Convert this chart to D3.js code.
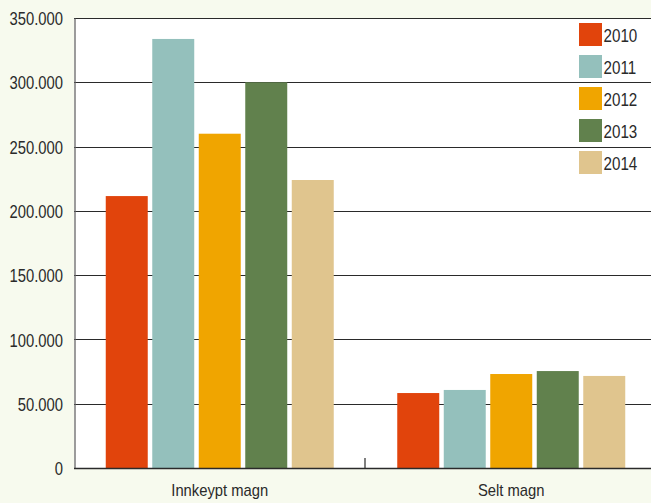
<!DOCTYPE html>
<html><head><meta charset="utf-8">
<script src="https://cdn.jsdelivr.net/npm/d3@7"></script>
<style>
html,body{margin:0;padding:0;background:#f7faee;}
svg{display:block;}
text{font-family:"Liberation Sans",Arial,sans-serif;fill:#2a2a2a;}
</style></head>
<body>
<svg id="chart" width="651" height="503"></svg>
<script>
const categories = ["Innkeypt magn", "Selt magn"];
const years = ["2010", "2011", "2012", "2013", "2014"];
const values2010 = [211500, 58300];
const values2011 = [333700, 60700];
const values2012 = [260000, 73100];
const values2013 = [300000, 75400];
const values2014 = [224000, 71600];
const yTicks = [0, 50000, 100000, 150000, 200000, 250000, 300000, 350000];
const colors = ["#e1440c", "#94c0bc", "#f0a500", "#61814d", "#e0c58e"];

const series = [values2010, values2011, values2012, values2013, values2014];
const svg = d3.select("#chart");
const mLeft = 74, mRight = 657, mTop = 18, mBottom = 468;
const FF = '"Liberation Sans",Arial,sans-serif';

const x0 = d3.scaleBand().domain(categories).range([mLeft, mRight]).paddingInner(0).paddingOuter(0);
const x1 = d3.scaleBand().domain(years).range([0, 228]).paddingInner(0.097).paddingOuter(0);
const y = d3.scaleLinear().domain([0, 350000]).range([mBottom, mTop]);

svg.append("rect").attr("x", mLeft).attr("y", mTop).attr("width", 651 - mLeft).attr("height", mBottom - mTop).attr("fill", "#ffffff");

// gridlines
svg.append("g").selectAll("line").data(yTicks.filter(d => d > 0)).join("line")
  .attr("x1", mLeft).attr("x2", 651).attr("y1", d => Math.round(y(d)) + 0.5).attr("y2", d => Math.round(y(d)) + 0.5)
  .attr("stroke", "#2a2a2a").attr("stroke-width", 1.2);

// bars
const fmt = v => v === 0 ? "0" : d3.format(",")(v).replace(/,/g, ".");
const groups = svg.append("g").selectAll("g").data(categories).join("g")
  .attr("transform", d => `translate(${x0(d) + x0.bandwidth() / 2 - 114},0)`);
groups.selectAll("rect").data((c, i) => years.map((yr, j) => ({yr, v: series[j][i], j}))).join("rect")
  .attr("x", d => x1(d.yr)).attr("width", x1.bandwidth())
  .attr("y", d => y(d.v)).attr("height", d => y(0) - y(d.v))
  .attr("fill", d => colors[d.j]);

// y axis
const sy = 0.8;
const yAxis = d3.axisLeft(y).tickValues(yTicks).tickFormat(fmt).tickSize(0).tickPadding(11);
const ga = svg.append("g").attr("transform", `translate(${mLeft + 0.5},0)`).call(yAxis);
ga.select(".domain").attr("stroke", "#666").attr("stroke-width", 1.3);
ga.selectAll("text").attr("font-size", 18.5).attr("fill", "#2a2a2a").style("font-family", FF)
  .attr("x", -11.5 / sy).attr("dy", "0.36em").attr("transform", `scale(${sy},1)`);

// x axis
const sx = 0.87;
const xAxis = d3.axisBottom(x0).tickSize(0).tickPadding(16);
const gx = svg.append("g").attr("transform", `translate(0,${mBottom})`).call(xAxis);
gx.select(".domain").remove();
gx.selectAll("text").attr("font-size", 17).attr("fill", "#2a2a2a").style("font-family", FF)
  .attr("transform", `scale(${sx},1)`);
svg.append("line").attr("x1", mLeft).attr("x2", 651).attr("y1", mBottom + 0.5).attr("y2", mBottom + 0.5)
  .attr("stroke", "#2a2a2a").attr("stroke-width", 1.6);
// separator tick
const sep = x0(categories[1]);
svg.append("line").attr("x1", sep - 0.5).attr("x2", sep - 0.5).attr("y1", mBottom - 10).attr("y2", mBottom)
  .attr("stroke", "#2a2a2a").attr("stroke-width", 1.2);

// legend
const lg = svg.append("g").attr("transform", "translate(579,23)");
const items = lg.selectAll("g").data(years).join("g").attr("transform", (d, i) => `translate(0,${i * 32})`);
items.append("rect").attr("width", 23).attr("height", 23).attr("fill", (d, i) => colors[i]);
items.append("text").attr("x", 24.5 / 0.8).attr("y", 19.5).attr("font-size", 19)
  .attr("transform", "scale(0.8,1)").text(d => d);
</script>
</body></html>
